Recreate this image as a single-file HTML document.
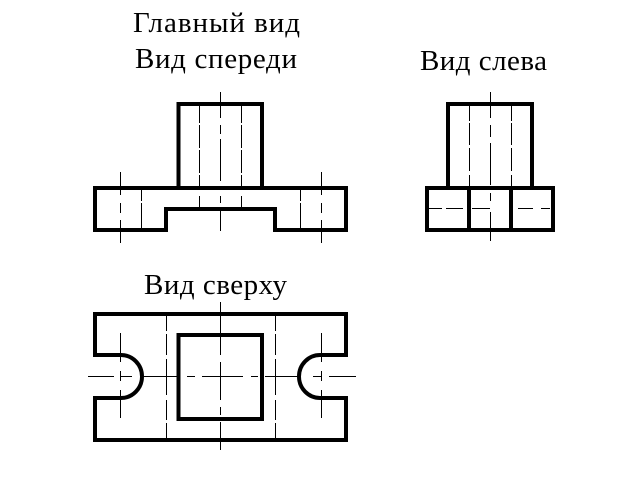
<!DOCTYPE html>
<html><head><meta charset="utf-8"><style>html,body{margin:0;padding:0;background:#fff}svg{display:block}text{font-family:"Liberation Serif","Noto Serif CJK SC",serif;font-size:29px;fill:#000}</style></head><body>
<svg width="640" height="480" viewBox="0 0 640 480" xmlns="http://www.w3.org/2000/svg">
<rect width="640" height="480" fill="#fff"/>
<text x="133" y="32" textLength="167" lengthAdjust="spacing">Главный вид</text>
<text x="135" y="68" textLength="162" lengthAdjust="spacing">Вид спереди</text>
<text x="420" y="70" textLength="127" lengthAdjust="spacing">Вид слева</text>
<text x="144" y="294" textLength="143" lengthAdjust="spacing">Вид сверху</text>
<g stroke="#000" stroke-width="1" fill="none">
<path d="M220.5 92V118M220.5 125V134M220.5 139V181M220.5 196V203M220.5 210V231"/>
<path d="M199.5 105V123M199.5 125V148M199.5 150V173M199.5 175V187M199.5 196V207"/>
<path d="M241.5 105V123M241.5 125V148M241.5 150V173M241.5 175V187M241.5 196V207"/>
<path d="M120.5 172V195M120.5 203V213M120.5 220V243"/>
<path d="M321.5 172V195M321.5 203V213M321.5 220V243"/>
<path d="M141.5 186V201M141.5 203V228M300.5 186V201M300.5 203V228"/>
<path d="M490.5 92V118M490.5 125V137M490.5 143V185M490.5 193V201M490.5 212V241"/>
<path d="M469.5 105V121M469.5 123V145M469.5 148V171M469.5 175V186"/>
<path d="M511.5 105V121M511.5 123V145M511.5 148V171M511.5 175V186"/>
<path d="M429 208.5H442M446 208.5H463M472 208.5H490M518 208.5H533M541 208.5H550"/>
<path d="M88 376.5H114M120 376.5H132M142 376.5H177M187 376.5H195M202 376.5H243M251 376.5H258M265 376.5H298M313 376.5H322M329 376.5H356"/>
<path d="M220.5 302V355M220.5 362V400M220.5 407V415M220.5 422V450"/>
<path d="M120.5 333V362M120.5 371V381M120.5 390V418"/>
<path d="M321.5 333V362M321.5 371V381M321.5 390V418"/>
<path d="M166.5 315V331M166.5 334V355M166.5 359V395M166.5 400V420M166.5 423V440"/>
<path d="M275.5 315V331M275.5 334V355M275.5 359V395M275.5 400V420M275.5 423V440"/>
</g>
<g stroke="#000" stroke-width="4" fill="none" stroke-linejoin="miter">
<path d="M95 188H346V230H275V209H166V230H95Z"/>
<path d="M178.5 188V104H262V188"/>
<path d="M427 188H553V230H427Z"/>
<path d="M448 188V104H532V188"/>
<path d="M469 188V230M511 188V230"/>
<path d="M95 314H346V355H320A21 21.5 0 0 0 320 398H346V440H95V398H121A21 21.5 0 0 0 121 355H95Z"/>
<path d="M178.5 335H262V419H178.5Z"/>
</g>
</svg>
</body></html>
